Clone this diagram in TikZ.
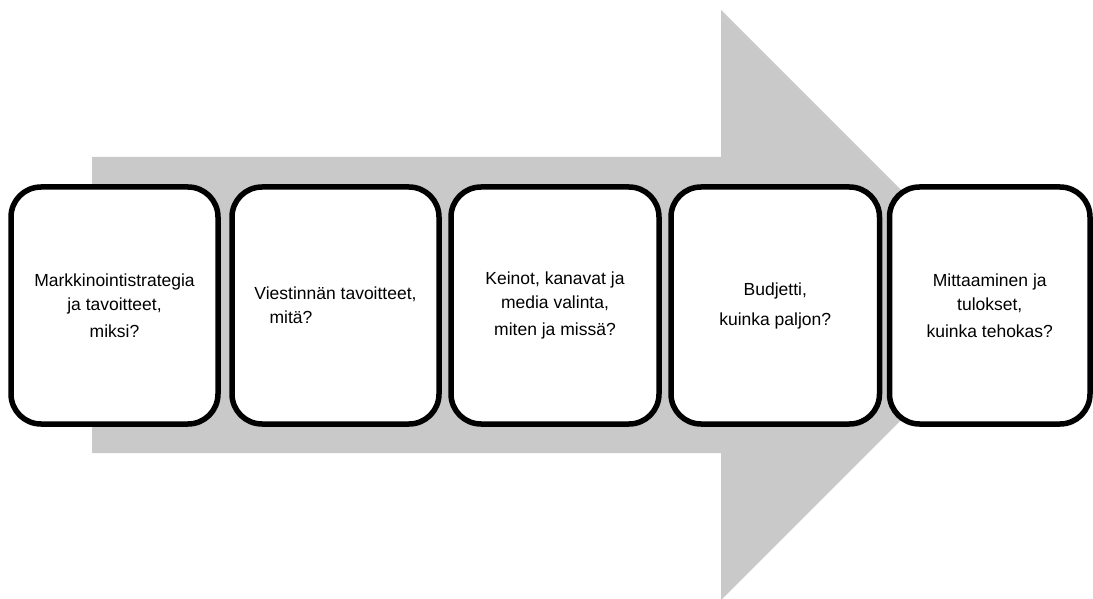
\documentclass[tikz,border=0pt]{standalone}
\usepackage{fontspec}
\setmainfont{Liberation Sans}
\definecolor{arrowgray}{HTML}{C9C9C9}
\tikzset{
  stepbox/.style={draw=black, line width=5.5pt, rounded corners=30pt, fill=white,
    minimum height=237pt, align=center, inner sep=0pt,
    font=\fontsize{17.5}{24}\selectfont},
  bigarrow/.style={fill=arrowgray, draw=none}
}
\begin{document}
\begin{tikzpicture}[x=1pt,y=-1pt]
  \useasboundingbox (0,0) rectangle (1093,599);
  % big background arrow
  \fill[bigarrow] (92,157) -- (721,157) -- (721,10) -- (1016,305) -- (721,600)
     -- (721,453) -- (92,453) -- cycle;
  % step boxes
  \node[stepbox, minimum width=207pt] (b1) at (114.5,305.5)
    {Markkinointistrategia\\ja tavoitteet,\\[3pt]miksi?};
  \node[stepbox, minimum width=207pt] (b2) at (335.5,305.5)
    {Viestinnän tavoitteet,\\mitä?\hspace*{89pt}};
  \node[stepbox, minimum width=208pt] (b3) at (555,305.5)
    {Keinot, kanavat ja\\media valinta,\\[3pt]miten ja missä?};
  \node[stepbox, minimum width=208.5pt] (b4) at (775.25,305.5)
    {Budjetti,\\[6pt]kuinka paljon?};
  \node[stepbox, minimum width=200.5pt] (b5) at (989.75,305.5)
    {Mittaaminen ja\\tulokset,\\[3pt]kuinka tehokas?};
\end{tikzpicture}
\end{document}
